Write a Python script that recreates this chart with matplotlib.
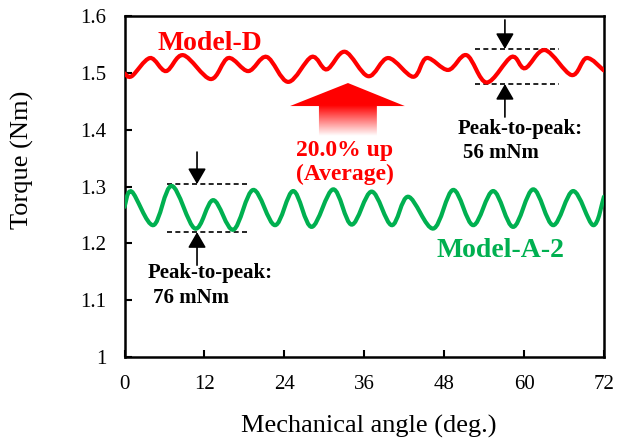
import numpy as np
import matplotlib
matplotlib.use("Agg")
import matplotlib.pyplot as plt
from matplotlib.path import Path
from matplotlib.patches import PathPatch, Polygon

# Model-D torque (peaks / troughs)
angle_d = [0.0, 1.08, 3.83, 6.23, 8.83, 12.94, 15.59, 18.59, 21.35, 24.59,
           28.11, 30.36, 33.11, 36.61, 39.61, 43.36, 45.38, 48.62, 51.38,
           54.38, 58.14, 60.14, 63.14, 67.15, 69.40, 72.0]
torque_d = [1.499, 1.494, 1.526, 1.503, 1.531, 1.489, 1.526, 1.503, 1.528,
            1.484, 1.528, 1.506, 1.537, 1.494, 1.526, 1.493, 1.526, 1.505,
            1.531, 1.483, 1.528, 1.508, 1.540, 1.496, 1.526, 1.504]

# Model-A-2 torque
angle_a2 = [0.0, 1.08, 4.32, 7.09, 10.59, 13.33, 16.34, 19.34, 22.60, 25.35,
            28.11, 31.35, 34.11, 37.12, 40.12, 42.61, 46.37, 49.37, 52.37,
            55.38, 58.38, 61.38, 64.38, 67.39, 70.39, 72.0]
torque_a2 = [1.264, 1.291, 1.232, 1.301, 1.226, 1.276, 1.224, 1.294, 1.232,
             1.292, 1.229, 1.295, 1.233, 1.291, 1.232, 1.282, 1.226, 1.294,
             1.232, 1.292, 1.229, 1.295, 1.232, 1.292, 1.232, 1.282]

x_ticks = [0, 12, 24, 36, 48, 60, 72]
y_ticks = [1.0, 1.1, 1.2, 1.3, 1.4, 1.5, 1.6]
y_ticklabels = ["1", "1.1", "1.2", "1.3", "1.4", "1.5", "1.6"]

RED = "#FF0000"
GREEN = "#00B050"
FONT = "Liberation Serif"


def smooth_path(x, y):
    # smoothed line through the points (like Excel's smoothed scatter line)
    pts = np.column_stack([x, y])
    p = np.vstack([pts[0], pts, pts[-1]])
    verts = [pts[0]]
    codes = [Path.MOVETO]
    for i in range(1, len(p) - 2):
        c1 = p[i] + (p[i + 1] - p[i - 1]) / 6
        c2 = p[i + 1] - (p[i + 2] - p[i]) / 6
        verts += [c1, c2, p[i + 1]]
        codes += [Path.CURVE4] * 3
    return Path(verts, codes)


fig = plt.figure(figsize=(6.17, 4.43), dpi=100)
ax = fig.add_axes([0.2018, 0.194, 0.777, 0.770])

ax.add_patch(PathPatch(smooth_path(angle_d, torque_d), fill=False,
                       ec=RED, lw=3, capstyle="round", zorder=3))
ax.add_patch(PathPatch(smooth_path(angle_a2, torque_a2), fill=False,
                       ec=GREEN, lw=3, capstyle="round", zorder=3))

# big red arrow with fading shaft
arrow_xy = [(29.2, 1.388), (29.2, 1.4415), (24.86, 1.4415), (33.56, 1.482),
            (42.1, 1.4415), (37.9, 1.4415), (37.9, 1.388)]
poly = Polygon(arrow_xy, closed=True, fc="none", ec="none")
ax.add_patch(poly)
yy = np.linspace(1.482, 1.388, 200)
t = np.clip((1.4415 - yy) / (1.4415 - 1.388), 0, 1)
img = np.zeros((200, 2, 4))
img[:, :, 0] = 1.0
img[:, :, 3] = (1 - t)[:, None]
im = ax.imshow(img, extent=[24.86, 42.1, 1.388, 1.482], aspect="auto",
               origin="upper", interpolation="bilinear", zorder=2)
im.set_clip_path(poly)

# peak-to-peak markers
dash = (0, (3, 2))
ax.plot([52.6, 65.2], [1.5419, 1.5419], color="k", lw=1.2, linestyle=dash)
ax.plot([52.6, 65.2], [1.4803, 1.4803], color="k", lw=1.2, linestyle=dash)
ax.plot([6.38, 18.69], [1.3042, 1.3042], color="k", lw=1.2, linestyle=dash)
ax.plot([6.38, 18.69], [1.2197, 1.2197], color="k", lw=1.2, linestyle=dash)

arr = dict(arrowstyle="-|>,head_length=0.95,head_width=0.55", color="k",
           lw=1.2, mutation_scale=10, shrinkA=0, shrinkB=0)
ax.annotate("", xy=(57.13, 1.5419), xytext=(57.13, 1.593), arrowprops=arr)
ax.annotate("", xy=(57.13, 1.4803), xytext=(57.13, 1.4222), arrowprops=arr)
ax.annotate("", xy=(10.89, 1.3042), xytext=(10.89, 1.3606), arrowprops=arr)
ax.annotate("", xy=(10.89, 1.2197), xytext=(10.89, 1.1616), arrowprops=arr)

# labels
ax.text(12.76, 1.5401, "Model-D", color=RED, fontsize=20, fontweight="bold",
        family=FONT, ha="center", va="baseline")
ax.text(56.46, 1.1757, "Model-A-2", color=GREEN, fontsize=20,
        fontweight="bold", family=FONT, ha="center", va="baseline")
ax.text(33.1, 1.3535, "20.0% up", color=RED, fontsize=17, fontweight="bold",
        family=FONT, ha="center", va="baseline")
ax.text(33.1, 1.3113, "(Average)", color=RED, fontsize=17, fontweight="bold",
        family=FONT, ha="center", va="baseline")
ax.text(50.08, 1.3923, "Peak-to-peak:", fontsize=15, fontweight="bold",
        family=FONT, ha="left", va="baseline")
ax.text(50.83, 1.350, "56 mNm", fontsize=15, fontweight="bold",
        family=FONT, ha="left", va="baseline")
ax.text(3.53, 1.1387, "Peak-to-peak:", fontsize=15, fontweight="bold",
        family=FONT, ha="left", va="baseline")
ax.text(4.28, 1.0947, "76 mNm", fontsize=15, fontweight="bold",
        family=FONT, ha="left", va="baseline")

ax.set_xlim(0, 72)
ax.set_ylim(1.0, 1.6)
ax.set_xticks(x_ticks)
ax.set_xticklabels([str(v) for v in x_ticks])
ax.set_yticks(y_ticks)
ax.set_yticklabels(y_ticklabels)
ax.tick_params(direction="in", length=5, width=1.5, pad=13, labelsize=15)
for lab in ax.get_xticklabels() + ax.get_yticklabels():
    lab.set_family(FONT)
for s in ax.spines.values():
    s.set_linewidth(1.8)

fig.text(368.5 / 617, 1 - 426 / 443, "Mechanical angle (deg.)", fontsize=19,
         family=FONT, ha="center", va="center")
fig.text(22 / 617, 1 - 160 / 443, "Torque (Nm)", fontsize=19, family=FONT,
         ha="center", va="center", rotation=90)

fig.savefig("out.png", dpi=100)
